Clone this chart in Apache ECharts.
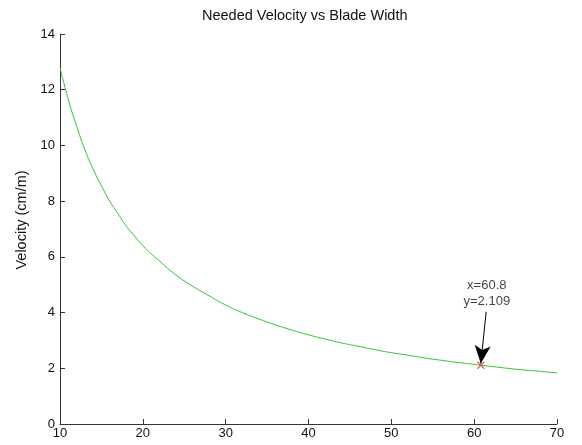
<!DOCTYPE html>
<html>
<head>
<meta charset="utf-8">
<script src="https://cdn.jsdelivr.net/npm/echarts@6/dist/echarts.min.js"></script>
<style>html,body{margin:0;padding:0;background:#fff;}#c{width:582px;height:445px;}</style>
</head>
<body>
<div id="c"></div>
<script>
const titleText = 'Needed Velocity vs Blade Width';
const yAxisName = 'Velocity (cm/m)';
const widths = [10,11,12,13,14,15,16,17,18,19,20,22,24,26,28,30,32,34,36,38,40,42,44,46,48,50,52,54,56,58,60,60.8,62,64,66,68,70];
const velocities = [12.8,11.65,10.7,9.85,9.15,8.55,8.0,7.55,7.1,6.75,6.4,5.85,5.35,4.95,4.6,4.27,4.0,3.77,3.56,3.37,3.2,3.05,2.91,2.79,2.67,2.56,2.47,2.37,2.29,2.21,2.14,2.109,2.07,2.0,1.94,1.89,1.83];
const markX = 60.8;
const markY = 2.109;
const arrowStart = [61.45, 4.03];
const arrowEnd = [60.8, 2.17];

const chart = echarts.init(document.getElementById('c'));
const font = 'Liberation Sans, Arial, sans-serif';
chart.setOption({
  animation: false,
  backgroundColor: '#fff',
  title: {text: titleText, left: 197, top: 3,
    textStyle: {fontFamily: font, fontSize: 14.5, fontWeight: 'normal', color: '#111'}},
  grid: {left: 60, right: 25, top: 34, bottom: 21},
  xAxis: {type: 'value', min: 10, max: 70, interval: 10,
    axisLine: {lineStyle: {color: '#333', width: 1}},
    axisTick: {inside: true, length: 5, lineStyle: {color: '#333'}},
    axisLabel: {color: '#111', fontFamily: font, fontSize: 13, margin: 3},
    splitLine: {show: false}},
  yAxis: {type: 'value', min: 0, max: 14, interval: 2,
    name: yAxisName, nameLocation: 'middle', nameGap: 30,
    nameTextStyle: {color: '#111', fontFamily: font, fontSize: 14.5, padding: [0, 0, 0, 18]},
    axisLine: {show: true, lineStyle: {color: '#333', width: 1}},
    axisTick: {show: true, inside: true, length: 5, lineStyle: {color: '#333'}},
    axisLabel: {color: '#111', fontFamily: font, fontSize: 13, margin: 5},
    splitLine: {show: false}},
  series: [
    {type: 'line', data: widths.map((w, i) => [w, velocities[i]]),
     smooth: true, showSymbol: false, lineStyle: {color: '#33c233', width: 1}, z: 2,
     markLine: {silent: true, symbol: ['none', 'arrow'], symbolSize: [12, 18],
       lineStyle: {color: '#000', width: 1, type: 'solid'}, label: {show: false},
       data: [[{coord: arrowStart}, {coord: arrowEnd}]]}},
    {type: 'scatter', data: [[markX, markY]],
     symbol: 'path://M0,0L10,10M10,0L0,10', symbolSize: 7,
     itemStyle: {color: 'none', borderColor: '#dd3333', borderWidth: 1.2},
     label: {show: true, position: 'top', distance: 50, offset: [6, 0],
       formatter: 'x=' + markX + '\ny=' + markY,
       fontFamily: font, fontSize: 13, color: '#111', lineHeight: 16, align: 'center',
       backgroundColor: '#fff'}, z: 3}
  ]
});
</script>
</body>
</html>
